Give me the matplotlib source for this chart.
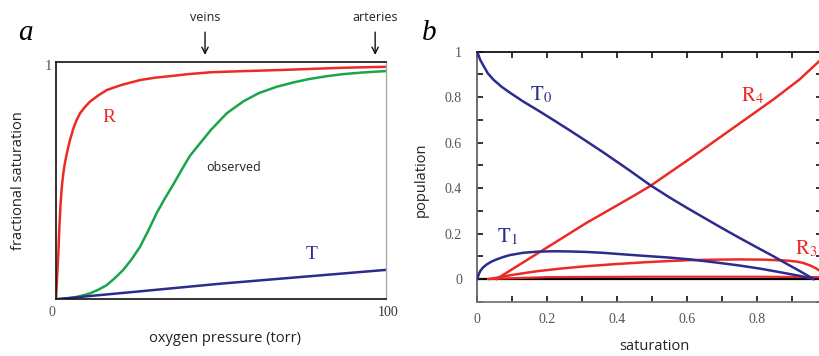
import matplotlib
matplotlib.use('Agg')
import matplotlib.pyplot as plt
from matplotlib.ticker import FixedLocator

plt.rcParams['mathtext.fontset'] = 'stix'

# ---- panel a: oxygen binding curves ----
pressure_R = [0, 0.35, 0.7, 1.0, 1.4, 1.8, 2.2, 2.7, 3.2, 4.2, 5.25, 6.2, 7.3, 8.7, 10.3, 12.8,
              15.4, 20, 25.5, 30, 35.6, 40, 47, 55, 67, 77, 87, 100]
sat_R = [0, 0.1, 0.19, 0.3, 0.405, 0.48, 0.53, 0.575, 0.61, 0.67, 0.72, 0.755, 0.785, 0.81, 0.834, 0.86,
         0.883, 0.905, 0.925, 0.935, 0.943, 0.95, 0.958, 0.962, 0.967, 0.972, 0.977, 0.981]

pressure_obs = [0, 2.5, 5.25, 7.8, 10.3, 12.8, 15.4, 17.9, 20.4, 23, 25.5, 28, 30.5, 33, 35.6, 38.1,
                40.6, 43.5, 47, 51.8, 56.8, 61.5, 67, 72, 77, 82, 87, 93, 100]
sat_obs = [0, 0.002, 0.007, 0.015, 0.025, 0.04, 0.06, 0.09, 0.124, 0.17, 0.222, 0.29, 0.363, 0.425,
           0.485, 0.546, 0.605, 0.655, 0.715, 0.785, 0.835, 0.87, 0.897, 0.915, 0.93, 0.941, 0.95,
           0.957, 0.963]

pressure_T = [0, 5, 25, 50, 75, 100]
sat_T = [0, 0.007, 0.033, 0.066, 0.095, 0.124]

veins_p = 45.2
arteries_p = 96.8

# ---- panel b: state populations vs saturation ----
t0_x = [0, 0.008, 0.017, 0.03, 0.046, 0.07, 0.093, 0.13, 0.17, 0.22, 0.265, 0.31, 0.36, 0.43,
        0.493, 0.55, 0.6, 0.655, 0.7, 0.75, 0.8, 0.846, 0.88, 0.92, 0.96]
t0_y = [1.0, 0.965, 0.94, 0.905, 0.877, 0.845, 0.82, 0.782, 0.745, 0.697, 0.653, 0.608, 0.557, 0.483,
        0.414, 0.358, 0.312, 0.263, 0.223, 0.18, 0.138, 0.1, 0.07, 0.036, 0.0]

r4_x = [0.055, 0.18, 0.31, 0.446, 0.493, 0.608, 0.75, 0.846, 0.92, 0.985]
r4_y = [0.0, 0.12, 0.245, 0.365, 0.408, 0.53, 0.685, 0.79, 0.877, 0.97]

t1_x = [0, 0.004, 0.008, 0.016, 0.027, 0.04, 0.055, 0.075, 0.093, 0.13, 0.17, 0.22, 0.265, 0.31,
        0.36, 0.42, 0.484, 0.55, 0.608, 0.68, 0.75, 0.81, 0.864, 0.92, 0.96]
t1_y = [0, 0.02, 0.034, 0.05, 0.064, 0.076, 0.086, 0.097, 0.105, 0.115, 0.12, 0.122, 0.121, 0.119,
        0.115, 0.108, 0.101, 0.094, 0.086, 0.073, 0.059, 0.045, 0.03, 0.014, 0.0]

r3_x = [0.036, 0.1, 0.17, 0.24, 0.31, 0.4, 0.484, 0.55, 0.608, 0.68, 0.75, 0.82, 0.884, 0.91,
        0.93, 0.95, 0.965, 0.985]
r3_y = [0, 0.018, 0.034, 0.046, 0.056, 0.066, 0.074, 0.079, 0.083, 0.085, 0.086, 0.085, 0.081,
        0.077, 0.071, 0.06, 0.049, 0.03]

r2_x = [0.03, 0.2, 0.5, 0.8, 0.985]
r2_y = [0.0, 0.008, 0.01, 0.01, 0.008]

RED = '#ec2a26'
BLUE = '#2c2c8c'
GREEN = '#19a54a'
GRAY = '#555555'

W, H = 820, 356


def px(x, y):
    return x / W, 1 - y / H


fig = plt.figure(figsize=(W / 100, H / 100), dpi=100)

# panel a
ax_a = fig.add_axes([56 / W, 1 - 299.3 / H, (385.7 - 56) / W, (299.3 - 62.3) / H])
ax_a.plot(pressure_R, sat_R, color=RED, lw=1.8)
ax_a.plot(pressure_obs, sat_obs, color=GREEN, lw=1.8)
ax_a.plot(pressure_T, sat_T, color=BLUE, lw=1.8)
ax_a.set_xlim(0, 100)
ax_a.set_ylim(0, 1)
ax_a.set_xticks([])
ax_a.set_yticks([])
for side in ['top', 'left', 'bottom']:
    ax_a.spines[side].set_linewidth(1.2)
    ax_a.spines[side].set_color('#111111')
ax_a.spines['right'].set_color('#aaaaaa')
ax_a.spines['right'].set_linewidth(1.0)

ax_a.text(15.9, 0.766, 'R', color=RED, fontsize=14, family='Liberation Serif', ha='center', va='center')
ax_a.text(77.6, 0.191, 'T', color=BLUE, fontsize=14, family='Liberation Serif', ha='center', va='center')
ax_a.text(54, 0.558, 'observed', color='#222222', fontsize=9, family='Open Sans', ha='center', va='center')

for p, name in [(veins_p, 'veins'), (arteries_p, 'arteries')]:
    ax_a.annotate(name, xy=(p, 1.031), xytext=(p, 1.19), ha='center', va='center',
                  fontsize=9, family='Open Sans', color='#222222', annotation_clip=False,
                  arrowprops=dict(arrowstyle='->,head_length=0.5,head_width=0.25',
                                  color='#111111', lw=1.0, shrinkA=4, shrinkB=0))

fig.text(*px(52, 66), '1', color=GRAY, fontsize=10.5, family='Liberation Serif', ha='right', va='center')
fig.text(*px(52, 313), '0', color=GRAY, fontsize=10, family='Liberation Serif', ha='center', va='center')
fig.text(*px(388, 313), '100', color='#333333', fontsize=10, family='Liberation Serif', ha='center', va='center')
fig.text(*px(19, 181), 'fractional saturation', rotation=90, fontsize=10.5, family='Open Sans',
         color='#222222', ha='center', va='center')
fig.text(*px(225, 339), 'oxygen pressure (torr)', fontsize=10.5, family='Open Sans',
         color='#222222', ha='center', va='center')
fig.text(*px(25, 40), 'a', fontsize=21, family='Liberation Serif', style='italic', ha='center', va='baseline')

# panel b
ax_b = fig.add_axes([477.3 / W, 1 - 301.7 / H, (822 - 477.3) / W, (301.7 - 51.7) / H])
ax_b.axhline(0, color='black', lw=1.6, zorder=1)
ax_b.plot(r2_x, r2_y, color=RED, lw=1.6, zorder=2)
ax_b.plot(r3_x, r3_y, color=RED, lw=1.8, zorder=3)
ax_b.plot(r4_x, r4_y, color=RED, lw=1.8, zorder=3)
ax_b.plot(t1_x, t1_y, color=BLUE, lw=1.8, zorder=4)
ax_b.plot(t0_x, t0_y, color=BLUE, lw=1.8, zorder=4)
ax_b.set_xlim(0, (822 - 477.3) / 350)
ax_b.set_ylim(-0.1, 1.0)
ax_b.xaxis.set_major_locator(FixedLocator([0, 0.2, 0.4, 0.6, 0.8]))
ax_b.xaxis.set_minor_locator(FixedLocator([0.1, 0.3, 0.5, 0.7, 0.9]))
ax_b.yaxis.set_major_locator(FixedLocator([0, 0.2, 0.4, 0.6, 0.8, 1.0]))
ax_b.yaxis.set_minor_locator(FixedLocator([-0.1, 0.1, 0.3, 0.5, 0.7, 0.9]))
ax_b.set_xticklabels(['0', '0.2', '0.4', '0.6', '0.8'])
ax_b.set_yticklabels(['0', '0.2', '0.4', '0.6', '0.8', '1'])
ax_b.tick_params(which='both', direction='in', length=4, width=1.2, top=True, right=True,
                 colors='#111111', labelcolor=GRAY)
ax_b.tick_params(axis='x', which='major', pad=8)
ax_b.tick_params(axis='y', which='major', pad=11)
for lab in ax_b.get_xticklabels() + ax_b.get_yticklabels():
    lab.set_family('Liberation Serif')
    lab.set_fontsize(10)
ax_b.spines['top'].set_color('#111111')
ax_b.spines['left'].set_color('#666666')
ax_b.spines['bottom'].set_color('#777777')
for side in ['top', 'left', 'bottom', 'right']:
    ax_b.spines[side].set_linewidth(1.3)

ax_b.text(0.15, 0.785, r'$\mathrm{T}_0$', color=BLUE, fontsize=15, ha='left', va='baseline')
ax_b.text(0.753, 0.78, r'$\mathrm{R}_4$', color=RED, fontsize=15, ha='left', va='baseline')
ax_b.text(0.056, 0.16, r'$\mathrm{T}_1$', color=BLUE, fontsize=15, ha='left', va='baseline')
ax_b.text(0.907, 0.108, r'$\mathrm{R}_3$', color=RED, fontsize=15, ha='left', va='baseline')

fig.text(*px(421, 180), 'population', rotation=90, fontsize=10.5, family='Open Sans',
         color='#222222', ha='center', va='center')
fig.text(*px(654, 347), 'saturation', fontsize=10.5, family='Open Sans',
         color='#222222', ha='center', va='center')
fig.text(*px(429, 40), 'b', fontsize=21, family='Liberation Serif', style='italic', ha='center', va='baseline')

fig.savefig('out.png', dpi=100)
